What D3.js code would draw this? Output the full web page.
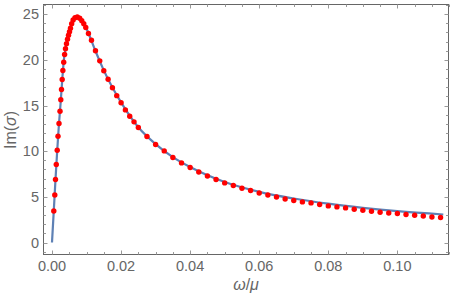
<!DOCTYPE html>
<html><head><meta charset="utf-8">
<script src="https://cdn.jsdelivr.net/npm/d3@7/dist/d3.min.js"></script>
<style>body{margin:0;background:#fff}svg{display:block}</style>
</head><body><svg id="c" width="454" height="300"></svg>
<script>
// Red sample points (omega/mu, Im(sigma))
const pointX = [0.00052,0.00081,0.00101,0.00124,0.00151,0.00174,0.00203,0.00232,0.00255,0.00275,
  0.00295,0.00315,0.00339,0.00365,0.00391,0.00420,0.00449,0.00478,0.00507,0.00535,
  0.00570,0.00611,0.00666,0.00732,0.00802,0.00863,0.00920,0.00978,0.01056,0.01143,
  0.01259,0.01383,0.0150,0.01625,0.0175,0.01875,0.0200,0.02125,0.0225,0.02375,
  0.0250,0.0275,0.0300,0.0325,0.0350,0.0375,0.0400,0.0425,0.0450,0.0475,
  0.0500,0.0525,0.0550,0.0575,0.0600,0.0625,0.0650,0.0675,0.0700,0.0725,
  0.0750,0.0775,0.0800,0.0825,0.0850,0.0875,0.0900,0.0925,0.0950,0.0975,
  0.1000,0.1025,0.1050,0.1075,0.1100,0.1125];
const pointY = [3.46,5.21,6.90,8.54,10.11,11.64,13.03,14.38,15.64,16.75,
  17.85,18.83,19.74,20.59,21.22,21.77,22.26,22.70,23.08,23.47,
  23.96,24.36,24.62,24.69,24.56,24.29,23.96,23.54,22.89,22.15,
  21.00,19.89,18.81,17.88,16.95,16.08,15.31,14.52,13.83,13.21,
  12.59,11.61,10.74,10.03,9.31,8.72,8.21,7.73,7.29,6.90,
  6.53,6.24,5.95,5.69,5.43,5.21,4.99,4.77,4.61,4.45,
  4.34,4.16,4.01,3.90,3.79,3.65,3.54,3.43,3.32,3.24,
  3.18,3.07,2.99,2.91,2.80,2.74];
// Blue curve
const lineX = [0,0.0005,0.001,0.0015,0.002,0.0025,0.003,0.0035,0.004,0.0045,
  0.005,0.0055,0.006,0.0065,0.007,0.0075,0.008,0.009,0.010,0.011,
  0.0125,0.015,0.0175,0.020,0.025,0.030,0.035,0.040,0.050,0.060,
  0.070,0.080,0.090,0.100,0.1133];
const lineY = [0,3.35,6.8,10.0,12.9,15.3,18.0,20.2,21.4,22.3,
  23.0,23.7,24.25,24.57,24.68,24.66,24.55,24.1,23.4,22.5,
  21.05,18.85,16.97,15.35,12.62,10.78,9.35,8.26,6.62,5.55,
  4.82,4.25,3.80,3.43,3.07];
const xTicks = [0,0.02,0.04,0.06,0.08,0.10];
const xTickLabels = ["0.00","0.02","0.04","0.06","0.08","0.10"];
const yTicks = [0,5,10,15,20,25];
const yTickLabels = ["0","5","10","15","20","25"];

const L = 43.5, R = 448.5, T = 4.5, B = 254.5;
const x = d3.scaleLinear().domain([-0.00246, 0.1148]).range([L, R]);
const y = d3.scaleLinear().domain([-1.31, 26.06]).range([B, T]);
const svg = d3.select("#c");
const gray = "#666";
const font = "'Liberation Sans', Arial, sans-serif";

// Frame
svg.append("rect").attr("x", L).attr("y", T).attr("width", R - L).attr("height", B - T)
  .attr("fill", "none").attr("stroke", gray).attr("stroke-width", 1);

// Ticks
const xMinor = d3.range(0, 0.1151, 0.005);
const yMinor = d3.range(-1, 26.01, 1);
const isMajX = v => xTicks.some(t => Math.abs(t - v) < 1e-9);
const isMajY = v => yTicks.some(t => Math.abs(t - v) < 1e-9);
const tk = svg.append("g").attr("stroke", "#999").attr("stroke-width", 1);
xMinor.forEach(v => {
  const px = Math.round(x(v)) + 0.5, len = isMajX(v) ? 4 : 2.5;
  tk.append("line").attr("x1", px).attr("x2", px).attr("y1", B).attr("y2", B - len);
  tk.append("line").attr("x1", px).attr("x2", px).attr("y1", T).attr("y2", T + len);
});
yMinor.forEach(v => {
  const py = Math.round(y(v)) + 0.5, len = isMajY(v) ? 4 : 2.5;
  tk.append("line").attr("y1", py).attr("y2", py).attr("x1", L).attr("x2", L + len);
  tk.append("line").attr("y1", py).attr("y2", py).attr("x1", R).attr("x2", R - len);
});

// Tick labels
svg.append("g").selectAll("text").data(xTicks).join("text")
  .attr("x", d => x(d)).attr("y", 271)
  .attr("text-anchor", "middle").attr("fill", gray)
  .attr("font-family", font).attr("font-size", 14.5)
  .text((d, i) => xTickLabels[i]);
svg.append("g").selectAll("text").data(yTicks).join("text")
  .attr("x", 39).attr("y", d => y(d) + 5)
  .attr("text-anchor", "end").attr("fill", gray)
  .attr("font-family", font).attr("font-size", 14.5)
  .text((d, i) => yTickLabels[i]);

// Axis titles
const xt = svg.append("text").attr("x", 246).attr("y", 290).attr("text-anchor", "middle")
  .attr("fill", gray).attr("font-family", font).attr("font-size", 16);
xt.append("tspan").attr("font-style", "italic").text("ω");
xt.append("tspan").text("/");
xt.append("tspan").attr("font-style", "italic").text("μ");
const yt = svg.append("text").attr("transform", "translate(16,130) rotate(-90)")
  .attr("text-anchor", "middle").attr("fill", gray)
  .attr("font-family", font).attr("font-size", 16);
yt.append("tspan").text("Im(");
yt.append("tspan").attr("font-style", "italic").text("σ");
yt.append("tspan").text(")");

// Curve
const lineData = lineX.map((v, i) => [v, lineY[i]]);
svg.append("path").datum(lineData)
  .attr("fill", "none").attr("stroke", "#5E81B5").attr("stroke-width", 2.2)
  .attr("stroke-linejoin", "round")
  .attr("d", d3.line().x(d => x(d[0])).y(d => y(d[1])).curve(d3.curveMonotoneX));

// Points
svg.append("g").selectAll("circle").data(pointX.map((v, i) => [v, pointY[i]])).join("circle")
  .attr("cx", d => x(d[0])).attr("cy", d => y(d[1])).attr("r", 2.7).attr("fill", "#FF0000");
</script>
</body></html>
